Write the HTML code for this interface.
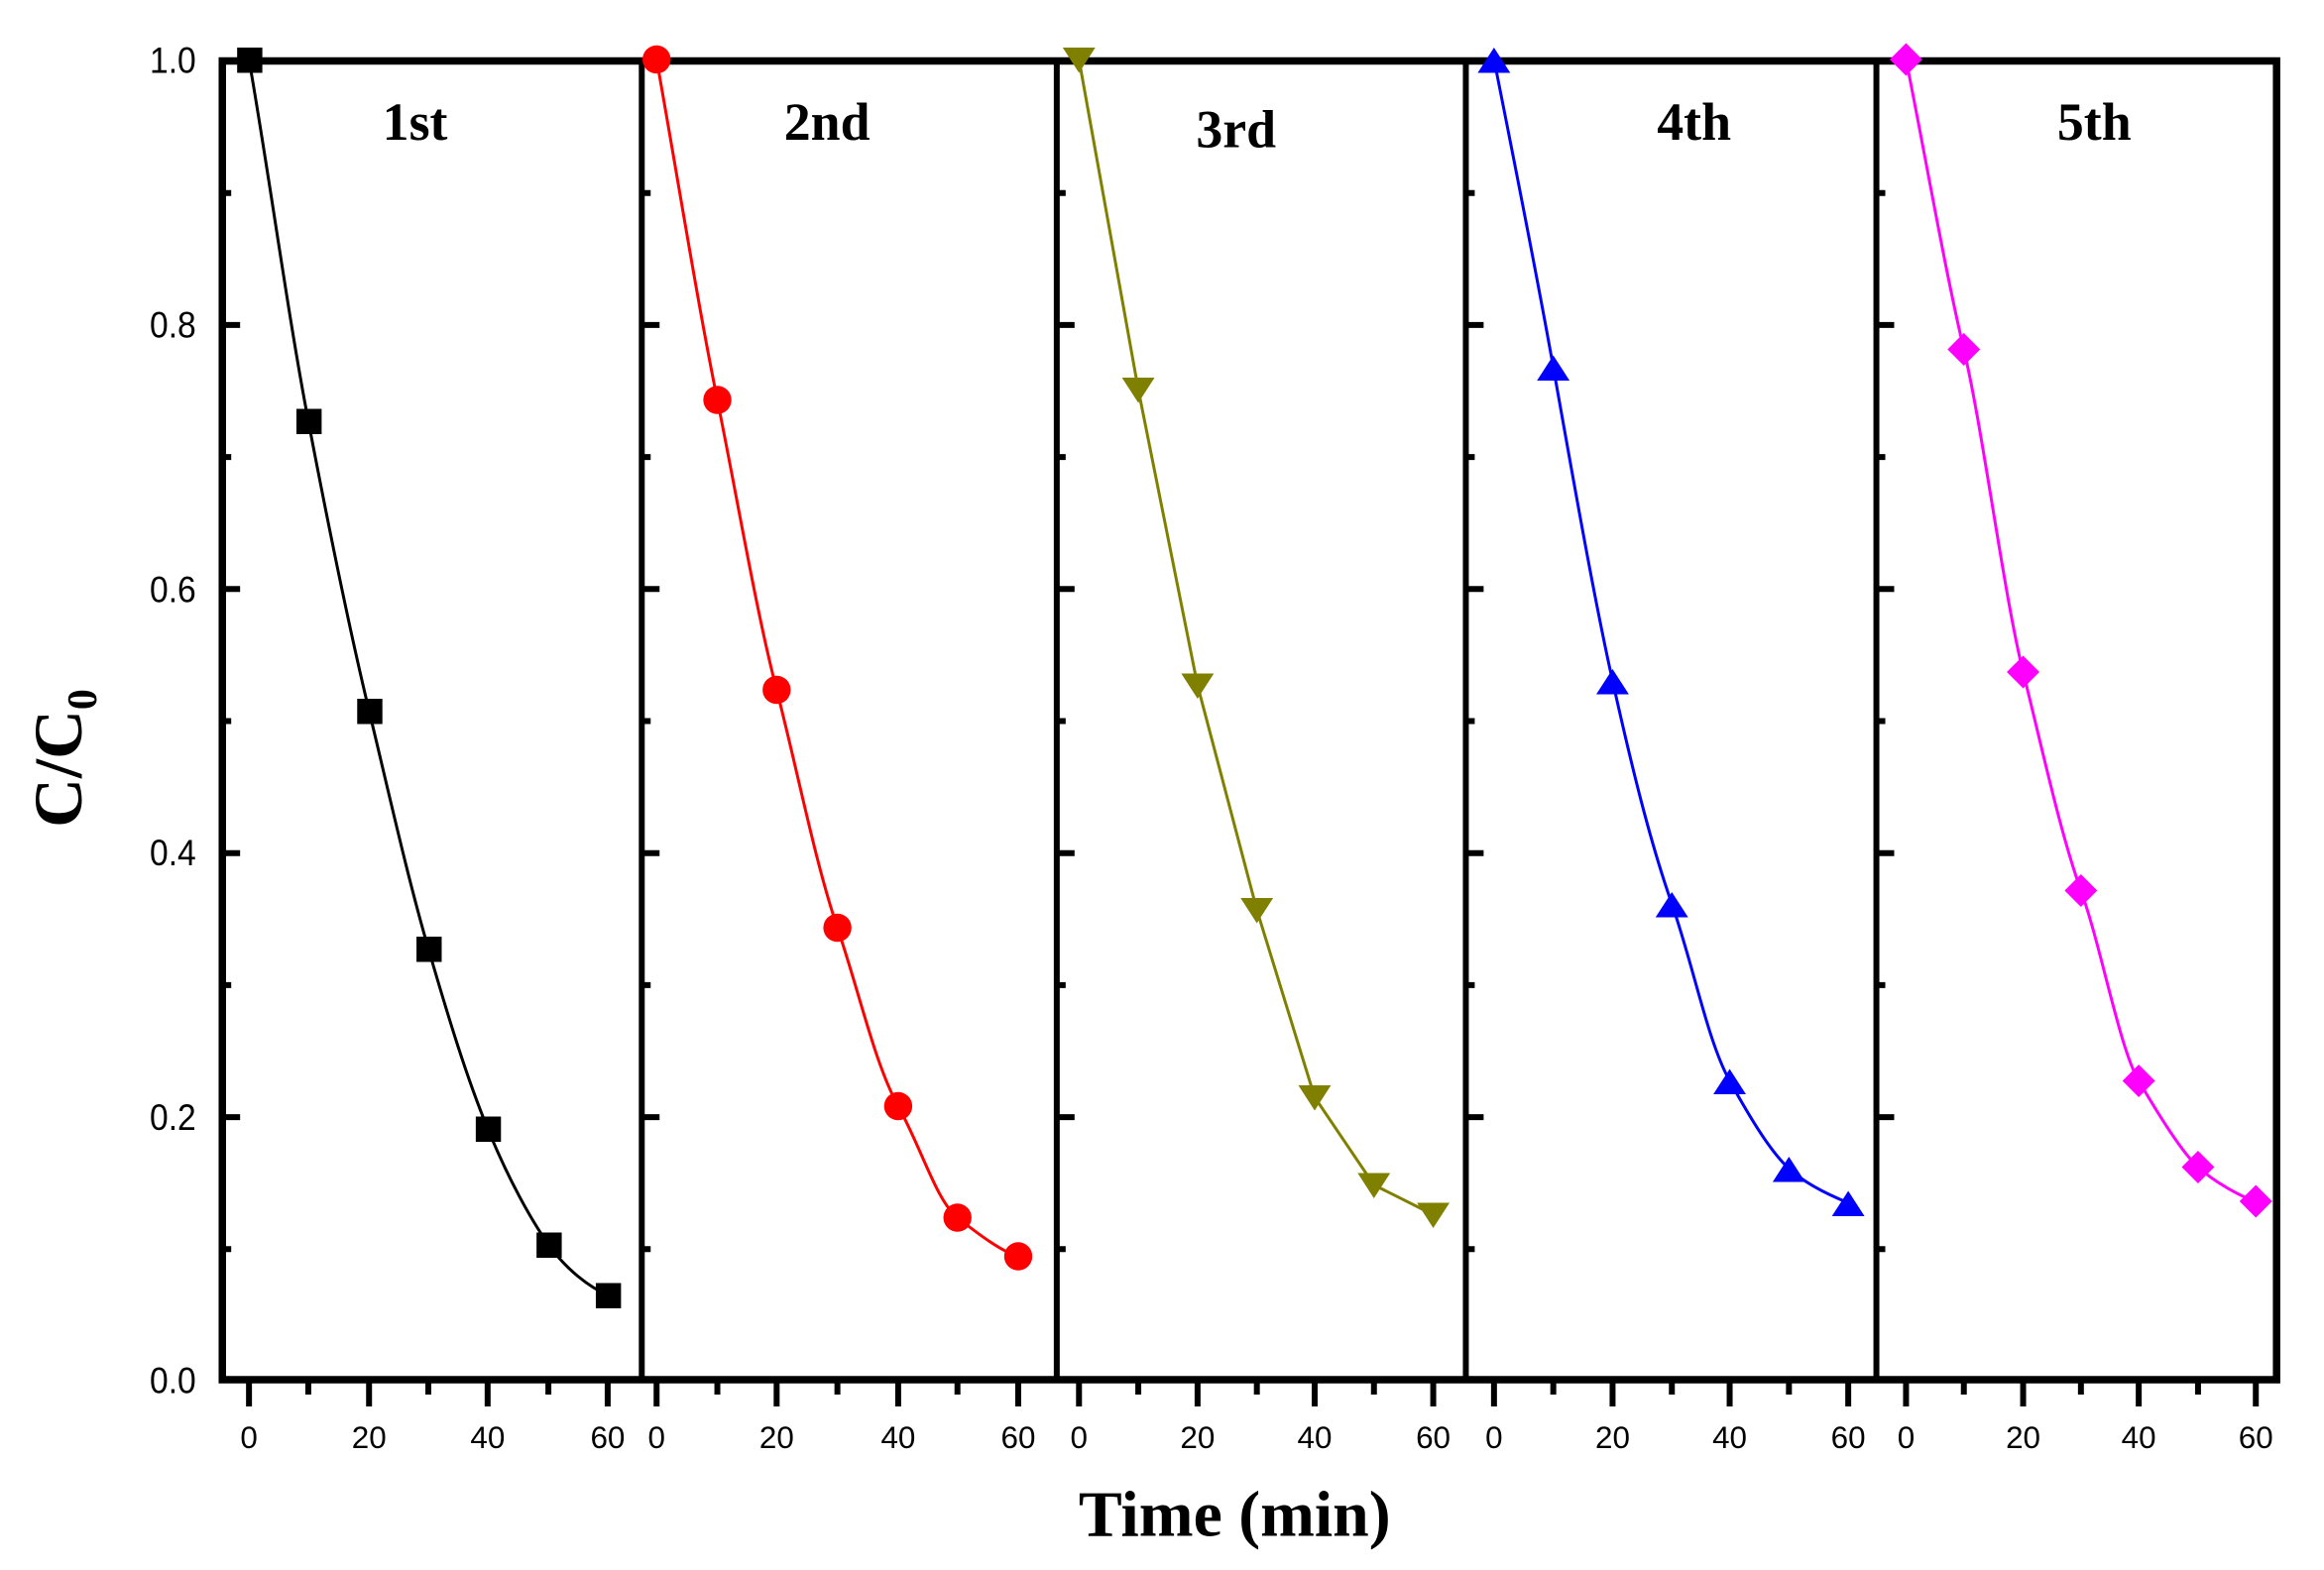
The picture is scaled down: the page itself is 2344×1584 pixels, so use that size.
<!DOCTYPE html>
<html><head><style>html,body{margin:0;padding:0;background:#fff}svg{display:block}</style></head>
<body>
<svg width="2344" height="1584" viewBox="0 0 1568 1056" preserveAspectRatio="none" xmlns="http://www.w3.org/2000/svg">
<rect width="1568" height="1056" fill="#fff"/>
<g font-family="Liberation Sans, sans-serif" font-size="25" text-anchor="end" fill="#000" transform="scale(0.9,1)">
<text x="147" y="49">1.0</text><text x="147" y="227">0.8</text><text x="147" y="405">0.6</text>
<text x="147" y="582">0.4</text><text x="147" y="760">0.2</text><text x="147" y="937">0.0</text>
</g>
<text transform="translate(55,510) rotate(-90)" font-family="Liberation Serif, serif" font-weight="bold" font-size="46" text-anchor="middle">C/C<tspan font-size="28" dy="10">0</tspan></text>
<text x="833" y="1033" font-family="Liberation Serif, serif" font-weight="bold" font-size="44" text-anchor="middle">Time (min)</text>
<g stroke="#000" fill="none">
<rect x="150" y="41" width="1386" height="887" stroke-width="5"/>
<line x1="433" y1="41" x2="433" y2="928" stroke-width="4"/>
<line x1="713" y1="41" x2="713" y2="928" stroke-width="4"/>
<line x1="989" y1="41" x2="989" y2="928" stroke-width="4"/>
<line x1="1266" y1="41" x2="1266" y2="928" stroke-width="4"/>
</g>
<g stroke="#000" stroke-width="4">
<path d="M150 129.8h6M150 218.6h12M150 307.4h6M150 396.2h12M150 485h6M150 573.8h12M150 662.6h6M150 751.4h12M150 840.2h6"/>
<path d="M433 129.8h6M433 218.6h12M433 307.4h6M433 396.2h12M433 485h6M433 573.8h12M433 662.6h6M433 751.4h12M433 840.2h6"/>
<path d="M713 129.8h6M713 218.6h12M713 307.4h6M713 396.2h12M713 485h6M713 573.8h12M713 662.6h6M713 751.4h12M713 840.2h6"/>
<path d="M989 129.8h6M989 218.6h12M989 307.4h6M989 396.2h12M989 485h6M989 573.8h12M989 662.6h6M989 751.4h12M989 840.2h6"/>
<path d="M1266 129.8h6M1266 218.6h12M1266 307.4h6M1266 396.2h12M1266 485h6M1266 573.8h12M1266 662.6h6M1266 751.4h12M1266 840.2h6"/>
<path d="M168 928v18M208 928v10M249 928v18M289 928v10M329 928v18M370 928v10M410 928v18"/>
<path d="M443 928v18M484 928v10M524 928v18M565 928v10M606 928v18M646 928v10M687 928v18"/>
<path d="M728 928v18M768 928v10M808 928v18M848 928v10M887 928v18M927 928v10M967 928v18"/>
<path d="M1008 928v18M1048 928v10M1088 928v18M1128 928v10M1167 928v18M1207 928v10M1247 928v18"/>
<path d="M1286 928v18M1325 928v10M1365 928v18M1404 928v10M1443 928v18M1483 928v10M1522 928v18"/>
</g>
<g font-family="Liberation Sans, sans-serif" font-size="21" text-anchor="middle" fill="#000">
<text x="168" y="974">0</text><text x="249" y="974">20</text><text x="329" y="974">40</text><text x="410" y="974">60</text>
<text x="443" y="974">0</text><text x="524" y="974">20</text><text x="606" y="974">40</text><text x="687" y="974">60</text>
<text x="728" y="974">0</text><text x="808" y="974">20</text><text x="887" y="974">40</text><text x="967" y="974">60</text>
<text x="1008" y="974">0</text><text x="1088" y="974">20</text><text x="1167" y="974">40</text><text x="1247" y="974">60</text>
<text x="1286" y="974">0</text><text x="1365" y="974">20</text><text x="1443" y="974">40</text><text x="1522" y="974">60</text>
</g>
<g font-family="Liberation Serif, serif" font-weight="bold" font-size="36" text-anchor="middle">
<text x="280" y="94">1st</text><text x="558" y="94">2nd</text><text x="834" y="99">3rd</text><text x="1143" y="94">4th</text><text x="1413" y="94">5th</text>
</g>
<g fill="none" stroke-width="2">
<path stroke="#000" d="M168,40 C182,120 194,210 208,283 S235,420 249,478 S275,590 289,638 S315,725 329,759 S358,820 370,837 S398,866 410,871"/>
<path stroke="#f00" d="M443,40 C457,118 470,200 484,269 S510,410 524,464 S550,580 565,624 S590,715 606,744 S632,808 646,819 S676,842 687,845"/>
<path stroke="#808000" d="M728,40 L768,262 L808,461 L848,612 L887,738 L927,797 L967,817"/>
<path stroke="#00f" d="M1008,40 C1020,100 1036,180 1048,247 S1075,400 1088,458 S1113,565 1128,608 S1152,700 1167,727 S1195,775 1207,786 S1237,805 1247,809"/>
<path stroke="#f0f" d="M1286,40 C1300,110 1312,180 1325,235 S1352,400 1365,452 S1390,560 1404,599 S1430,705 1443,727 S1472,775 1483,785 S1512,805 1522,808"/>
</g>
<g fill="#000">
<rect x="160" y="32" width="17" height="17"/><rect x="200" y="275" width="17" height="17"/><rect x="241" y="470" width="17" height="17"/><rect x="281" y="630" width="17" height="17"/><rect x="321" y="751" width="17" height="17"/><rect x="362" y="829" width="17" height="17"/><rect x="402" y="863" width="17" height="17"/>
</g>
<g fill="#f00">
<circle cx="443" cy="40" r="9.5"/><circle cx="484" cy="269" r="9.5"/><circle cx="524" cy="464" r="9.5"/><circle cx="565" cy="624" r="9.5"/><circle cx="606" cy="744" r="9.5"/><circle cx="646" cy="819" r="9.5"/><circle cx="687" cy="845" r="9.5"/>
</g>
<g fill="#808000">
<path d="M717 32h22l-11 17z"/><path d="M757 254h22l-11 17z"/><path d="M797 453h22l-11 17z"/><path d="M837 604h22l-11 17z"/><path d="M876 730h22l-11 17z"/><path d="M916 789h22l-11 17z"/><path d="M956 809h22l-11 17z"/>
</g>
<g fill="#00f">
<path d="M997 49h22l-11-17z"/><path d="M1037 256h22l-11-17z"/><path d="M1077 467h22l-11-17z"/><path d="M1117 617h22l-11-17z"/><path d="M1156 736h22l-11-17z"/><path d="M1196 795h22l-11-17z"/><path d="M1236 818h22l-11-17z"/>
</g>
<g fill="#f0f">
<path d="M1286 29l11 11-11 11-11-11z"/><path d="M1325 224l11 11-11 11-11-11z"/><path d="M1365 441l11 11-11 11-11-11z"/><path d="M1404 588l11 11-11 11-11-11z"/><path d="M1443 716l11 11-11 11-11-11z"/><path d="M1483 774l11 11-11 11-11-11z"/><path d="M1522 797l11 11-11 11-11-11z"/>
</g>
</svg>
</body></html>
